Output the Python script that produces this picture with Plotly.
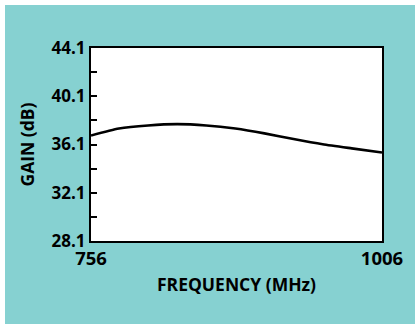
import plotly.graph_objects as go

freq_mhz = [756, 780, 805, 830, 855, 880, 905, 930, 955, 980, 1006]
gain_db = [36.84, 37.42, 37.68, 37.79, 37.68, 37.42, 37.02, 36.55, 36.12, 35.78, 35.44]

y_major = [28.1, 32.1, 36.1, 40.1, 44.1]
y_minor = [30.1, 34.1, 38.1, 42.1]
x_ticks = [756, 1006]

teal = "#86d1d1"
font_family = "Open Sans"

fig = go.Figure()
fig.add_trace(go.Scatter(x=freq_mhz, y=gain_db, mode="lines",
                         line=dict(color="black", width=2.6, shape="spline", smoothing=0.6),
                         hoverinfo="skip", showlegend=False))

W, H = 415, 324
ml, mr, mt, mb = 91, 33, 48, 83
pw, ph = W - ml - mr, H - mt - mb

fig.update_layout(
    width=W, height=H,
    margin=dict(l=ml, r=mr, t=mt, b=mb, pad=0),
    paper_bgcolor="white", plot_bgcolor="white",
    showlegend=False,
    shapes=[
        dict(type="rect", xref="paper", yref="paper", layer="below",
             x0=(5 - ml) / pw, x1=(W + 5 - ml) / pw,
             y0=(H - mb - (H + 5)) / ph, y1=(H - mb - 5) / ph,
             fillcolor=teal, line=dict(width=0)),
        dict(type="rect", xref="paper", yref="paper", layer="below",
             x0=0, x1=1, y0=0, y1=1,
             fillcolor="white", line=dict(width=0)),
    ],
)

fig.update_xaxes(
    range=[756, 1006], tickvals=x_ticks, ticktext=[str(v) for v in x_ticks],
    ticks="", showgrid=False, zeroline=False,
    showline=True, linecolor="black", linewidth=2, mirror=True,
    tickfont=dict(family=font_family, size=18.5, color="black", weight="bold"),
    title=dict(text="FREQUENCY (MHz)", standoff=10,
               font=dict(family=font_family, size=17.5, color="black", weight="bold")),
)
fig.update_yaxes(
    range=[28.1, 44.1], tickvals=y_major, ticktext=[f"{v:.1f}" for v in y_major],
    ticks="inside", ticklen=6, tickwidth=1.5, tickcolor="black",
    minor=dict(tickvals=y_minor, ticks="inside", ticklen=6, tickwidth=1.5, tickcolor="black", showgrid=False),
    showgrid=False, zeroline=False,
    showline=True, linecolor="black", linewidth=2, mirror=True,
    tickfont=dict(family=font_family, size=17, color="black", weight="bold"),
    title=dict(text="GAIN (dB)", standoff=12,
               font=dict(family=font_family, size=17.5, color="black", weight="bold")),
)

fig.write_html("out.html", config={"displayModeBar": False},
               post_script="document.body.style.margin='0';")
